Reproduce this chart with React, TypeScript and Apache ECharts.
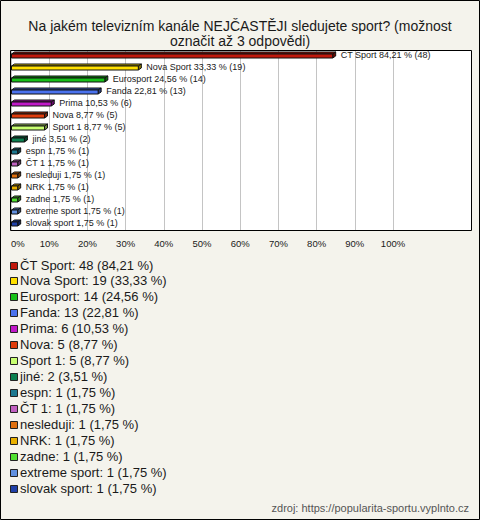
import React, { useEffect, useRef } from "react";
import * as echarts from "echarts";

const TITLE = "Na jakém televizním kanále NEJČASTĚJI sledujete sport? (možnost\noznačit až 3 odpovědi)";
const SOURCE = "zdroj: https://popularita-sportu.vyplnto.cz";

const categories = [
  "ČT Sport", "Nova Sport", "Eurosport", "Fanda", "Prima", "Nova", "Sport 1", "jiné",
  "espn", "ČT 1", "nesleduji", "NRK", "zadne", "extreme sport", "slovak sport",
];
const counts = [48, 19, 14, 13, 6, 5, 5, 2, 1, 1, 1, 1, 1, 1, 1];
const percents = [84.21, 33.33, 24.56, 22.81, 10.53, 8.77, 8.77, 3.51, 1.75, 1.75, 1.75, 1.75, 1.75, 1.75, 1.75];
const colors = [
  "#c0180c", "#ffe000", "#18c018", "#4a72ee", "#c018c8", "#e03c0c", "#c8ff70", "#0c8050",
  "#1c7890", "#c060c0", "#e07010", "#e8b000", "#50e030", "#6090e0", "#2040a8",
];
const xTickValues = [0, 10, 20, 30, 40, 50, 60, 70, 80, 90, 100];

const FONT = "'Liberation Sans', Arial, sans-serif";

function shade(hex: string, f: number): string {
  const n = parseInt(hex.slice(1), 16);
  let r = (n >> 16) & 255, g = (n >> 8) & 255, b = n & 255;
  if (f < 0) {
    r = Math.round(r * (1 + f)); g = Math.round(g * (1 + f)); b = Math.round(b * (1 + f));
  } else {
    r = Math.round(r + (255 - r) * f); g = Math.round(g + (255 - g) * f); b = Math.round(b + (255 - b) * f);
  }
  return "rgb(" + r + "," + g + "," + b + ")";
}

const fmt = (v: number) => v.toFixed(2).replace(".", ",");

export default function App() {
  const ref = useRef<HTMLDivElement>(null);
  useEffect(() => {
    if (!ref.current) return;
    const chart = echarts.init(ref.current, null, { renderer: "svg" });

    const legendEls: any[] = [];
    categories.forEach((c, i) => {
      const y = 265 + i * 15.93;
      legendEls.push({
        type: "rect",
        shape: { x: 10.5, y: Math.round(y - 3.5) + 0.5, width: 7, height: 7 },
        style: { fill: colors[i], stroke: "#222", lineWidth: 1 },
        z: 10,
      });
      legendEls.push({
        type: "text",
        x: 20,
        y: y,
        style: {
          text: c + ": " + counts[i] + " (" + fmt(percents[i]) + " %)",
          fontSize: 13,
          fontFamily: FONT,
          fill: "#1a1a1a",
          verticalAlign: "middle",
          align: "left",
        },
        z: 10,
      });
    });

    const option: any = {
      animation: false,
      backgroundColor: "#f4f3ec",
      title: {
        text: TITLE,
        left: "center",
        top: 13,
        textStyle: { fontSize: 14, fontWeight: "normal", color: "#1a1a1a", lineHeight: 15, fontFamily: FONT },
      },
      grid: { left: 11, top: 50, width: 382, height: 180, containLabel: false },
      xAxis: {
        type: "value",
        min: 0,
        max: 100,
        interval: 10,
        axisLine: { show: false },
        axisTick: { show: false },
        splitLine: { show: true, lineStyle: { color: "#c4c4c4", width: 1 } },
        axisLabel: {
          margin: 8,
          fontSize: 9.5,
          color: "#1a1a1a",
          fontFamily: FONT,
          alignMinLabel: "left",
          formatter: (v: number) => (xTickValues.indexOf(v) >= 0 ? v + "%" : ""),
        },
      },
      yAxis: {
        type: "category",
        data: categories,
        inverse: true,
        axisLine: { show: false },
        axisTick: { show: false },
        axisLabel: { show: false },
        splitLine: { show: false },
      },
      graphic: [
        {
          type: "rect",
          shape: { x: 0.5, y: 0.5, width: 479, height: 519 },
          style: { fill: "none", stroke: "#000", lineWidth: 1 },
          z: 20,
          silent: true,
        },
        {
          type: "rect",
          shape: { x: 10.5, y: 50.5, width: 461, height: 180 },
          style: { fill: "#fff", stroke: "none" },
          z: -10,
          silent: true,
        },
        {
          type: "rect",
          shape: { x: 10.5, y: 50.5, width: 461, height: 180 },
          style: { fill: "none", stroke: "#000", lineWidth: 1 },
          z: 5,
          silent: true,
        },
        {
          type: "text",
          right: 11,
          top: 502,
          style: { text: SOURCE, fontSize: 11, fontFamily: FONT, fill: "#555" },
          z: 10,
        },
        ...legendEls,
      ],
      series: [
        {
          type: "custom",
          clip: false,
          z: 3,
          data: percents.map((p, i) => [p, i, counts[i]]),
          encode: { x: 0, y: 1 },
          renderItem: (params: any, api: any) => {
            const v = api.value(0);
            const i = api.value(1);
            const p0 = api.coord([0, i]);
            const p1 = api.coord([v, i]);
            const x0 = p0[0] + 0.5;
            const x1 = p1[0];
            const cy = Math.round(p0[1]) - 0.5;
            const d = 3;
            const dy = 2;
            const top = cy - 1.5;
            const bot = cy + 2.5;
            const col = colors[i];
            return {
              type: "group",
              children: [
                {
                  type: "polygon",
                  shape: { points: [[x0, top], [x0 + d, top - dy], [x1 + d, top - dy], [x1, top]] },
                  style: { fill: shade(col, -0.25), stroke: "#111", lineWidth: 1 },
                },
                {
                  type: "polygon",
                  shape: { points: [[x1, top], [x1 + d, top - dy], [x1 + d, bot - dy], [x1, bot]] },
                  style: { fill: shade(col, -0.45), stroke: "#111", lineWidth: 1 },
                },
                {
                  type: "rect",
                  shape: { x: x0, y: top, width: Math.max(x1 - x0, 1), height: bot - top },
                  style: { fill: col, stroke: "#111", lineWidth: 1 },
                },
                {
                  type: "text",
                  x: x1 + d + 5,
                  y: cy - 0.5,
                  style: {
                    text: categories[i] + " " + fmt(v) + " % (" + api.value(2) + ")",
                    fontSize: 9,
                    fontFamily: FONT,
                    fill: "#1a1a1a",
                    verticalAlign: "middle",
                    align: "left",
                  },
                },
              ],
            };
          },
        },
      ],
    };
    chart.setOption(option);
    return () => chart.dispose();
  }, []);
  return (
    <div
      ref={ref}
      style={{ position: "absolute", left: 0, top: 0, width: 480, height: 520 }}
    />
  );
}
